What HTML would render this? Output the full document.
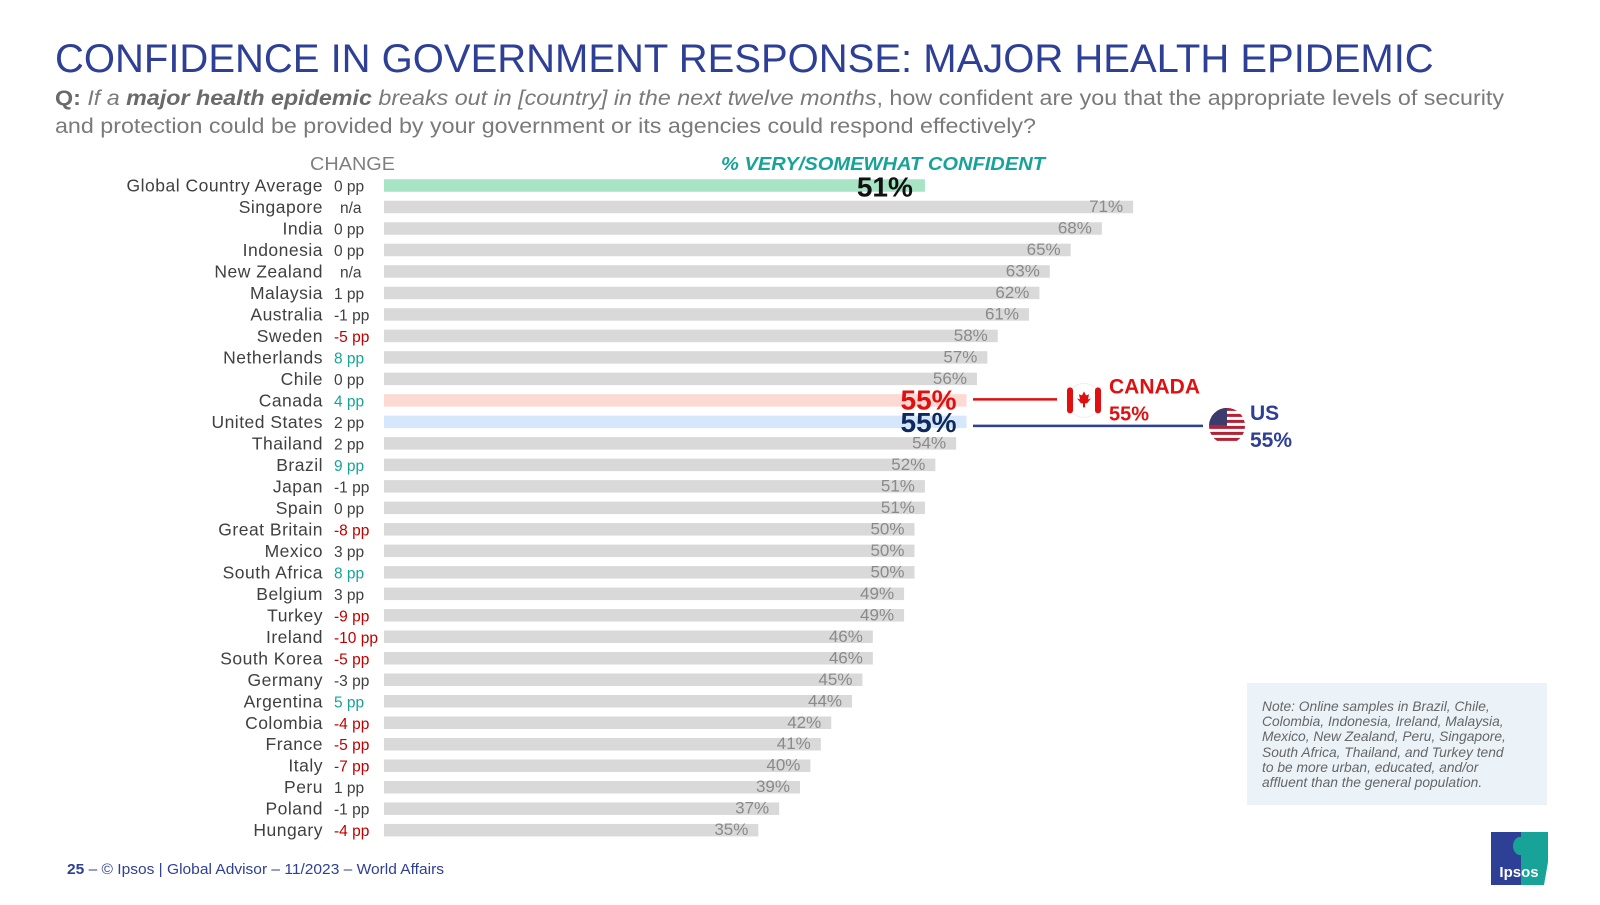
<!DOCTYPE html>
<html><head><meta charset="utf-8"><style>
html,body{margin:0;padding:0;background:#fff;}
body{width:1600px;height:900px;overflow:hidden;position:relative;font-family:"Liberation Sans",Arial,sans-serif;}
</style></head><body>
<svg width="1600" height="900" viewBox="0 0 1600 900" xmlns="http://www.w3.org/2000/svg" font-family="Liberation Sans, Arial, sans-serif">
<text x="55" y="72" font-size="40" fill="#2e3f96">CONFIDENCE IN GOVERNMENT RESPONSE: MAJOR HEALTH EPIDEMIC</text>
<text x="55" y="105" font-size="21.5" fill="#7a7a7a" textLength="1449" lengthAdjust="spacingAndGlyphs"><tspan font-weight="bold" fill="#6a6a6a">Q:</tspan> <tspan font-style="italic">If a </tspan><tspan font-style="italic" font-weight="bold" fill="#6a6a6a">major health epidemic</tspan><tspan font-style="italic"> breaks out in [country] in the next twelve months</tspan>, how confident are you that the appropriate levels of security</text>
<text x="55" y="133" font-size="21.5" fill="#7a7a7a" textLength="981" lengthAdjust="spacingAndGlyphs">and protection could be provided by your government or its agencies could respond effectively?</text>
<text x="310" y="170" font-size="18" fill="#7f7f7f" textLength="85" lengthAdjust="spacingAndGlyphs">CHANGE</text>
<text x="721" y="170" font-size="18" fill="#17a398" font-style="italic" font-weight="bold" textLength="324" lengthAdjust="spacingAndGlyphs">% VERY/SOMEWHAT CONFIDENT</text>
<g id="bars"></g>
<g id="callouts"></g>
<rect x="1247" y="683" width="300" height="122" fill="#ebf3f9"/>
<g font-size="13.8" font-style="italic" fill="#666">
<text x="1262" y="711">Note: Online samples in Brazil, Chile,</text>
<text x="1262" y="726">Colombia, Indonesia, Ireland, Malaysia,</text>
<text x="1262" y="741">Mexico, New Zealand, Peru, Singapore,</text>
<text x="1262" y="757">South Africa, Thailand, and Turkey tend</text>
<text x="1262" y="772">to be more urban, educated, and/or</text>
<text x="1262" y="787">affluent than the general population.</text>
</g>
<text x="67" y="874" font-size="15" fill="#2e3f96" textLength="377" lengthAdjust="spacingAndGlyphs"><tspan font-weight="bold">25</tspan> –   © Ipsos | Global Advisor – 11/2023 – World Affairs</text>
<g>
<rect x="1491" y="832" width="30" height="53" fill="#2e3f96"/>
<path d="M1521,832 h27 v30 l-4,23 h-23z" fill="#17a398"/>
<ellipse cx="1520" cy="846" rx="7" ry="9" fill="#17a398"/>
<text x="1519" y="877" font-size="15" font-weight="bold" fill="#fff" text-anchor="middle">Ipsos</text>
</g>
</svg>
<script>
const countries=["Global Country Average","Singapore","India","Indonesia","New Zealand","Malaysia","Australia","Sweden","Netherlands","Chile","Canada","United States","Thailand","Brazil","Japan","Spain","Great Britain","Mexico","South Africa","Belgium","Turkey","Ireland","South Korea","Germany","Argentina","Colombia","France","Italy","Peru","Poland","Hungary"];
const values=[51,71,68,65,63,62,61,58,57,56,55,55,54,52,51,51,50,50,50,49,49,46,46,45,44,42,41,40,39,37,35];
const changes=[0,null,0,0,null,1,-1,-5,8,0,4,2,2,9,-1,0,-8,3,8,3,-9,-10,-5,-3,5,-4,-5,-7,1,-1,-4];
const NS="http://www.w3.org/2000/svg";
const g=document.getElementById('bars');
const x=v=>394+10.41*v;
const y=i=>185.5+21.49*i;
function mk(t,a,p){const e=document.createElementNS(NS,t);for(const k in a)e.setAttribute(k,a[k]);(p||g).appendChild(e);return e;}
countries.forEach((c,i)=>{
  const cy=y(i);
  const fill=i===0?"#a7e4c5":c==="Canada"?"#fdd9d4":c==="United States"?"#d6e6fb":"#d9d9d9";
  const r=mk('rect',{x:384,y:cy-6.25,width:x(values[i])-384,height:12.5,fill:fill});
  
  
  const n=mk('text',{x:323,y:cy+6,'font-size':17.5,'letter-spacing':0.5,fill:'#404040','text-anchor':'end'});
  n.textContent=c;
  
  
  const ch=changes[i];
  let col='#404040';
  if(ch!==null&&ch<=-4)col='#c00000';
  if(ch!==null&&ch>=4)col='#17a398';
  const cl=mk('text',{x:ch===null?340:334,y:cy+6,'font-size':15.5,fill:col});
  cl.textContent=ch===null?'n/a':ch+' pp';
  
  
  let lab;
  if(i===0){lab=mk('text',{x:x(values[i])-12,y:cy+11,'font-size':28,'font-weight':'bold',fill:'#111','text-anchor':'end'});}
  else if(c==="Canada"){lab=mk('text',{x:x(values[i])-10,y:cy+9,'font-size':28,'font-weight':'bold',fill:'#e01010','text-anchor':'end'});}
  else if(c==="United States"){lab=mk('text',{x:x(values[i])-10,y:cy+10,'font-size':28,'font-weight':'bold',fill:'#0d2a5c','text-anchor':'end'});}
  else{lab=mk('text',{x:x(values[i])-10,y:cy+5,'font-size':17,fill:'#8a8a8a','text-anchor':'end'});}
  lab.textContent=values[i]+'%';
  
  
});
const co=document.getElementById('callouts');
const cy=y(10)-1, uy=y(11)+4;
const l1=mk('line',{x1:973,y1:cy,x2:1057,y2:cy,stroke:'#e01010','stroke-width':2.5},co);


const l2=mk('line',{x1:973,y1:uy,x2:1203,y2:uy,stroke:'#2e3f96','stroke-width':2.5},co);


const cf=document.createElementNS(NS,'g');co.appendChild(cf);


const fx=1084, fy=cy+1;
cf.innerHTML=`<circle cx="${fx}" cy="${fy}" r="17" fill="#fff" stroke="#eee"/>
<rect x="${fx-17}" y="${fy-13}" width="6" height="26" rx="3" fill="#e01010"/>
<rect x="${fx+11}" y="${fy-13}" width="6" height="26" rx="3" fill="#e01010"/>
<path d="M${fx},${fy-9} l2,4 3,-1 -1,5 3,-1 -4,5 h-2 v4 h-2 v-4 h-2 l-4,-5 3,1 -1,-5 3,1z" fill="#e01010"/>`;
const t1=mk('text',{x:1109,y:cy-6,'font-size':21,'font-weight':'bold',fill:'#e01010'},co);t1.textContent='CANADA';


const t2=mk('text',{x:1109,y:cy+21,'font-size':20,'font-weight':'bold',fill:'#e01010'},co);t2.textContent='55%';


const uf=document.createElementNS(NS,'g');co.appendChild(uf);


const ux=1227;
let s=`<clipPath id="usc"><circle cx="${ux}" cy="${uy}" r="18"/></clipPath><g clip-path="url(#usc)"><rect x="${ux-20}" y="${uy-18}" width="40" height="36" fill="#fff"/>`;
for(let k=0;k<6;k++)s+=`<rect x="${ux-20}" y="${uy-18+k*6}" width="40" height="3" fill="#b22234"/>`;
s+=`<rect x="${ux-20}" y="${uy-18}" width="20" height="18" fill="#3c3b6e"/></g>`;
uf.innerHTML=s;
const t3=mk('text',{x:1250,y:uy-6,'font-size':21,'font-weight':'bold',fill:'#2e3f96'},co);t3.textContent='US';


const t4=mk('text',{x:1250,y:uy+21,'font-size':21,'font-weight':'bold',fill:'#2e3f96'},co);t4.textContent='55%';


</script>
</body></html>
